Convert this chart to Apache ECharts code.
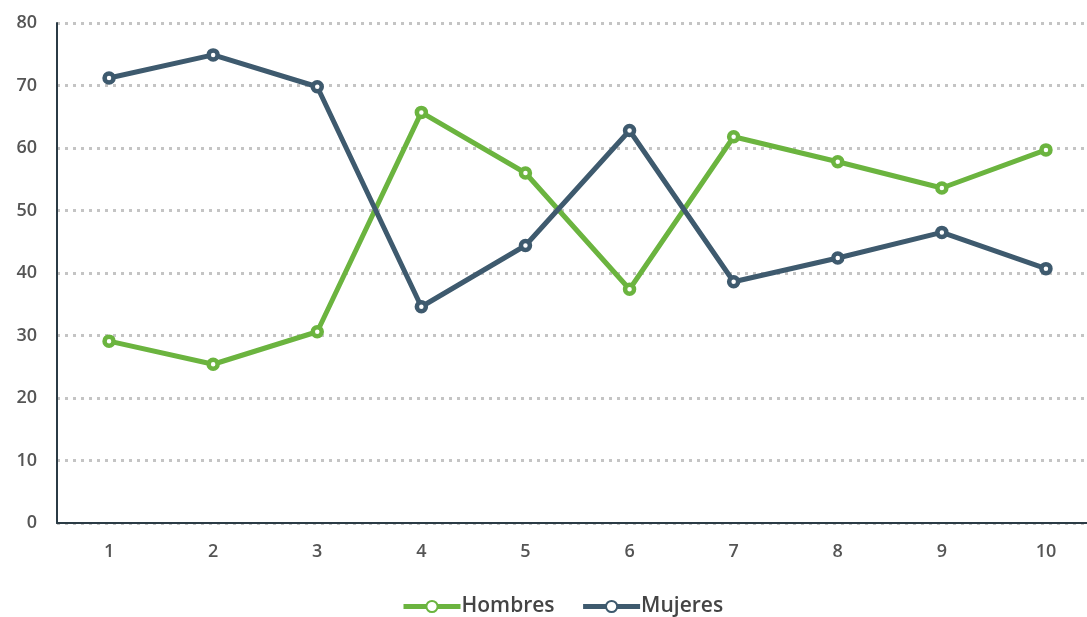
<!DOCTYPE html>
<html><head><meta charset="utf-8">
<script src="https://cdn.jsdelivr.net/npm/echarts@6/dist/echarts.min.js"></script>
<style>html,body{margin:0;padding:0;background:#fff}#c{width:1087px;height:617px}</style>
</head><body><div id="c"></div>
<script>
var categories = ['1','2','3','4','5','6','7','8','9','10'];
var hombres = [29.1, 25.4, 30.6, 65.7, 56.0, 37.4, 61.8, 57.8, 53.6, 59.7];
var mujeres = [71.2, 74.9, 69.8, 34.6, 44.4, 62.8, 38.6, 42.4, 46.5, 40.7];
var seriesNames = ['Hombres', 'Mujeres'];
var chart = echarts.init(document.getElementById('c'));
var font = '"Open Sans", sans-serif';
chart.setOption({
  animation: false,
  grid: {left: 57, width: 1041, top: 23, height: 500, containLabel: false, outerBoundsMode: 'none'},
  legend: {
    data: seriesNames, bottom: -5, left: 396, itemWidth: 57, itemHeight: 14, itemGap: 26,
    textStyle: {fontFamily: font, fontSize: 21, color: '#444', fontWeight: 600, padding: [0, 0, 0, -4]},
    lineStyle: {width: 5}
  },
  xAxis: {
    type: 'category', data: categories, boundaryGap: true,
    axisLine: {lineStyle: {color: '#2b3b45', width: 2}},
    axisTick: {show: false},
    axisLabel: {fontFamily: font, fontSize: 18, color: '#555', margin: 20, fontWeight: 600}
  },
  yAxis: {
    type: 'value', min: 0, max: 80, interval: 10,
    axisLine: {show: true, lineStyle: {color: '#2b3b45', width: 2}},
    axisTick: {show: false},
    axisLabel: {fontFamily: font, fontSize: 18, color: '#555', margin: 20, fontWeight: 600},
    splitLine: {lineStyle: {color: '#c4c4c4', width: 3, type: [3, 5]}}
  },
  series: [
    {name: seriesNames[0], type: 'line', data: hombres, symbol: 'circle', symbolSize: 9,
     lineStyle: {color: '#6bb43f', width: 5},
     itemStyle: {color: '#ffffff', borderColor: '#6bb43f', borderWidth: 4.5}},
    {name: seriesNames[1], type: 'line', data: mujeres, symbol: 'circle', symbolSize: 9,
     lineStyle: {color: '#3e5a6e', width: 5},
     itemStyle: {color: '#ffffff', borderColor: '#3e5a6e', borderWidth: 4.5}}
  ]
});
</script></body></html>
